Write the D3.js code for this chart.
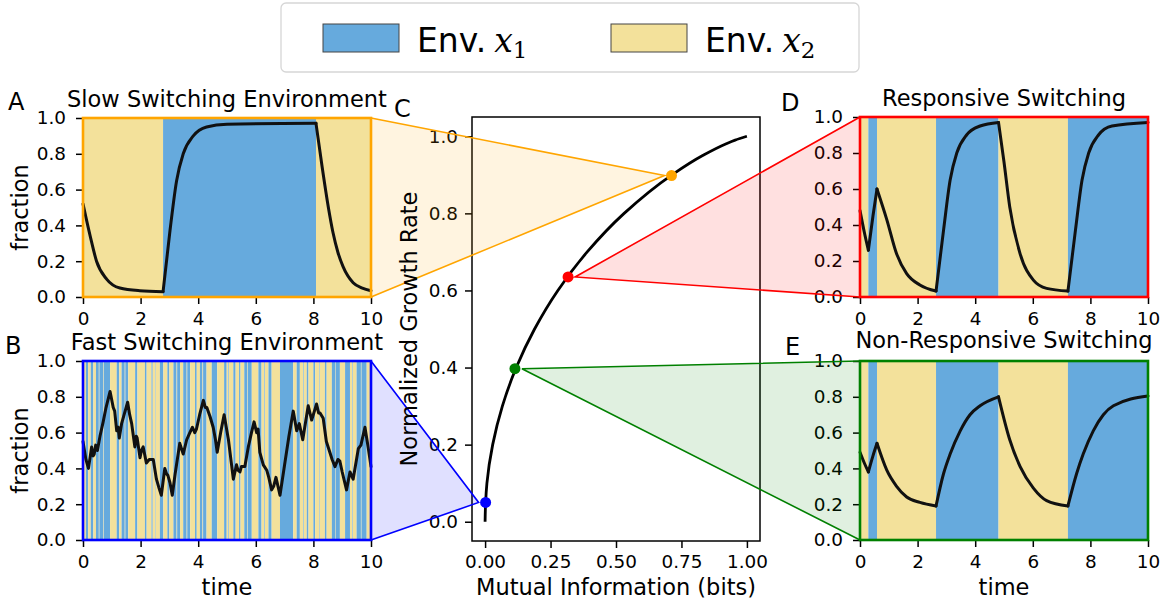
<!DOCTYPE html>
<html>
<head>
<meta charset="utf-8">
<script src="https://cdn.jsdelivr.net/npm/d3@7"></script>
<style>
body { margin: 0; background: #fff; }
svg { display: block; font-family: "DejaVu Sans", sans-serif; }
.tick text { font-family: "DejaVu Sans", sans-serif; font-size: 18.4px; fill: #000; }
.tick line { stroke: #000; stroke-width: 1.5; }
.lbl { font-size: 22.5px; fill: #000; }
.letter { font-size: 24px; fill: #000; }
</style>
</head>
<body>
<svg id="fig" width="1168" height="608"></svg>
<script>
'use strict'

// tick values
const timeTicks = [0, 2, 4, 6, 8, 10]
const fracTicks = [0, 0.2, 0.4, 0.6, 0.8, 1.0]
const infoTicks = [0, 0.25, 0.5, 0.75, 1.0]
const rateTicks = [0, 0.2, 0.4, 0.6, 0.8, 1.0]

// environment bands: [start, end, env]
const slowBands = [[0, 2.78, 2], [2.78, 8.09, 1], [8.09, 10, 2]]
const switchBands = [[0, 0.29, 2], [0.29, 0.59, 1], [0.59, 2.64, 2], [2.64, 4.81, 1], [4.81, 7.22, 2], [7.22, 10, 1]]
// fast environment: switch times, first band is env 2, then alternating
const fastSwitches = [0, 0.10, 0.18, 0.27, 0.36, 0.45, 0.55, 0.57, 0.70, 0.72, 0.94, 1.17, 1.26, 1.34, 1.45, 1.47,
    1.57, 1.81, 1.89, 2.15, 2.21, 2.38, 2.42, 2.50, 2.52, 2.67, 2.79, 2.93, 3.00, 3.14, 3.25, 3.27, 3.37, 3.48,
    3.60, 3.62, 3.72, 3.89, 3.95, 4.06, 4.15, 4.17, 4.29, 4.47, 4.66, 4.90, 4.99, 5.05, 5.07, 5.22, 5.30, 5.42,
    5.47, 5.60, 5.70, 5.72, 5.86, 6.09, 6.20, 6.30, 6.32, 6.44, 6.55, 6.84, 7.30, 7.42, 7.53, 7.65, 7.67, 7.77,
    7.83, 8.00, 8.06, 8.20, 8.22, 8.40, 8.46, 8.64, 8.75, 8.77, 8.92, 9.10, 9.27, 9.35, 9.37, 9.50, 9.65, 9.67, 9.85]

// fraction curves, split at switches: [time, fraction]
const slowCurve = [
    [[0, 0.52], [0.25, 0.34], [0.47, 0.2], [0.82, 0.1], [1.28, 0.05], [1.97, 0.035], [2.78, 0.03]],
    [[2.78, 0.03], [3.02, 0.37], [3.25, 0.65], [3.48, 0.8], [3.83, 0.9], [4.29, 0.95], [5.0, 0.965], [8.09, 0.97]],
    [[8.09, 0.97], [8.3, 0.73], [8.52, 0.5], [8.68, 0.36], [8.85, 0.25], [9.03, 0.17], [9.38, 0.08], [9.7, 0.05], [10, 0.035]]
]
const fastCurve = [[
    [0, 0.55], [0.1, 0.45], [0.19, 0.40], [0.3, 0.52], [0.35, 0.47], [0.39, 0.48], [0.44, 0.53], [0.5, 0.5],
    [0.59, 0.58], [0.7, 0.66], [0.8, 0.74], [0.94, 0.83], [1.05, 0.74], [1.1, 0.72], [1.17, 0.61], [1.22, 0.63],
    [1.26, 0.57], [1.34, 0.65], [1.55, 0.77], [1.62, 0.70], [1.69, 0.65], [1.75, 0.58], [1.8, 0.52], [1.85, 0.58],
    [1.88, 0.57], [1.98, 0.46], [2.03, 0.5], [2.09, 0.52], [2.2, 0.43], [2.3, 0.45], [2.44, 0.45], [2.55, 0.34],
    [2.64, 0.29], [2.72, 0.25], [2.84, 0.40], [2.9, 0.37], [2.95, 0.36], [3.02, 0.32], [3.1, 0.25], [3.2, 0.37],
    [3.36, 0.54], [3.48, 0.48], [3.6, 0.56], [3.71, 0.6], [3.8, 0.63], [3.88, 0.6], [3.94, 0.62], [4.05, 0.7],
    [4.18, 0.78], [4.25, 0.74], [4.3, 0.74], [4.41, 0.69], [4.52, 0.63], [4.6, 0.56], [4.66, 0.49], [4.78, 0.6],
    [4.9, 0.70], [5.05, 0.56], [5.22, 0.34], [5.33, 0.42], [5.38, 0.39], [5.45, 0.38], [5.5, 0.41], [5.62, 0.41],
    [5.74, 0.52], [5.85, 0.6], [5.94, 0.66], [6.03, 0.6], [6.08, 0.62], [6.14, 0.49], [6.26, 0.42], [6.38, 0.39],
    [6.45, 0.35], [6.55, 0.28], [6.62, 0.30], [6.7, 0.35], [6.84, 0.25], [7.0, 0.42], [7.15, 0.58], [7.3, 0.72],
    [7.42, 0.61], [7.51, 0.65], [7.63, 0.56], [7.82, 0.75], [7.94, 0.67], [8.11, 0.76], [8.18, 0.71], [8.23, 0.71],
    [8.34, 0.68], [8.45, 0.55], [8.57, 0.49], [8.65, 0.45], [8.75, 0.41], [8.85, 0.45], [8.92, 0.44], [9.0, 0.38],
    [9.15, 0.28], [9.27, 0.38], [9.38, 0.34], [9.56, 0.51], [9.65, 0.53], [9.79, 0.63], [9.9, 0.52], [10, 0.41]
]]
const responsiveCurve = [
    [[0, 0.48], [0.15, 0.36], [0.29, 0.26]],
    [[0.29, 0.26], [0.45, 0.45], [0.59, 0.6]],
    [[0.59, 0.6], [0.93, 0.43], [1.27, 0.24], [1.62, 0.13], [2.08, 0.067], [2.64, 0.033]],
    [[2.64, 0.033], [2.9, 0.37], [3.13, 0.65], [3.36, 0.8], [3.7, 0.9], [4.17, 0.95], [4.81, 0.97]],
    [[4.81, 0.97], [5.0, 0.75], [5.2, 0.5], [5.56, 0.24], [6.02, 0.094], [6.48, 0.048], [7.22, 0.033]],
    [[7.22, 0.033], [7.48, 0.37], [7.71, 0.65], [7.94, 0.8], [8.28, 0.9], [8.75, 0.95], [10, 0.97]]
]
const nonResponsiveCurve = [
    [[0, 0.49], [0.15, 0.43], [0.29, 0.38]],
    [[0.29, 0.38], [0.45, 0.47], [0.59, 0.54]],
    [[0.59, 0.54], [0.93, 0.39], [1.27, 0.3], [1.62, 0.24], [2.08, 0.21], [2.64, 0.19]],
    [[2.64, 0.19], [2.9, 0.37], [3.13, 0.48], [3.48, 0.61], [3.82, 0.7], [4.17, 0.75], [4.81, 0.8]],
    [[4.81, 0.8], [5.2, 0.56], [5.56, 0.41], [6.02, 0.29], [6.48, 0.22], [7.22, 0.19]],
    [[7.22, 0.19], [7.52, 0.37], [7.75, 0.48], [8.1, 0.61], [8.45, 0.7], [8.8, 0.75], [10, 0.805]]
]

// growth rate vs mutual information: [info, rate]
const tradeoffCurve = [[0, 0], [0.002, 0.05], [0.007, 0.1], [0.029, 0.2], [0.066, 0.3], [0.119, 0.4], [0.189, 0.5],
    [0.278, 0.6], [0.39, 0.7], [0.531, 0.8], [0.714, 0.9], [0.831, 0.95], [0.919, 0.98], [0.955, 0.99], [1, 1]]
const pointNames = ['slow', 'responsive', 'nonresponsive', 'fast']
const pointInfo = [0.712, 0.317, 0.114, 0.002]
const pointRate = [0.898, 0.635, 0.397, 0.05]
const pointColors = ['orange', 'red', 'green', 'blue']

const envColor = { 1: '#66aadd', 2: '#f3e19b' }

const svg = d3.select('#fig')

const boxes = {
    slow: { x0: 83, x1: 371, y0: 118, y1: 297 },
    fast: { x0: 83, x1: 371, y0: 361, y1: 540 },
    responsive: { x0: 860, x1: 1148, y0: 117, y1: 297 },
    nonresponsive: { x0: 860, x1: 1148, y0: 361, y1: 540 }
}
const cBox = { x0: 472, x1: 760, y0: 117, y1: 541 }

const fastBands = fastSwitches.map((t, i) => [t, i + 1 < fastSwitches.length ? fastSwitches[i + 1] : 10, i % 2 === 0 ? 2 : 1])

function drawPanel(box, bands, segments, color, smooth) {
    const x = d3.scaleLinear().domain([0, 10]).range([box.x0, box.x1])
    const y = d3.scaleLinear().domain([0, 1]).range([box.y1, box.y0])
    const g = svg.append('g')

    g.selectAll('.band').data(bands).enter().append('rect')
        .attr('x', d => x(d[0]))
        .attr('width', d => x(d[1]) - x(d[0]))
        .attr('y', box.y0)
        .attr('height', box.y1 - box.y0)
        .attr('fill', d => envColor[d[2]])

    const line = d3.line().x(d => x(d[0])).y(d => y(d[1]))
        .curve(smooth ? d3.curveMonotoneX : d3.curveLinear)
    g.selectAll('.curve').data(segments).enter().append('path')
        .attr('d', line)
        .attr('fill', 'none')
        .attr('stroke', '#111')
        .attr('stroke-width', 3)
        .attr('stroke-linecap', 'round')
        .attr('stroke-linejoin', 'round')

    g.append('g')
        .attr('transform', 'translate(' + box.x0 + ',0)')
        .call(d3.axisLeft(y).tickValues(fracTicks).tickFormat(d3.format('.1f')).tickSize(7).tickPadding(10))
        .call(a => a.select('.domain').remove())
    g.append('g')
        .attr('transform', 'translate(0,' + box.y1 + ')')
        .call(d3.axisBottom(x).tickValues(timeTicks).tickFormat(d3.format('d')).tickSize(7).tickPadding(8))
        .call(a => a.select('.domain').remove())

    g.append('rect')
        .attr('x', box.x0).attr('y', box.y0)
        .attr('width', box.x1 - box.x0).attr('height', box.y1 - box.y0)
        .attr('fill', 'none')
        .attr('stroke', color)
        .attr('stroke-width', 2.6)
    return { x, y }
}

drawPanel(boxes.slow, slowBands, slowCurve, 'orange', true)
drawPanel(boxes.fast, fastBands, fastCurve, 'blue', false)
drawPanel(boxes.responsive, switchBands, responsiveCurve, 'red', true)
drawPanel(boxes.nonresponsive, switchBands, nonResponsiveCurve, 'green', true)

// panel C
const xC = d3.scaleLinear().domain([-0.05, 1.05]).range([cBox.x0, cBox.x1])
const yC = d3.scaleLinear().domain([-0.05, 1.05]).range([cBox.y1, cBox.y0])

svg.append('g')
    .attr('transform', 'translate(' + cBox.x0 + ',0)')
    .call(d3.axisLeft(yC).tickValues(rateTicks).tickFormat(d3.format('.1f')).tickSize(7).tickPadding(7))
    .call(a => a.select('.domain').remove())
svg.append('g')
    .attr('transform', 'translate(0,' + cBox.y1 + ')')
    .call(d3.axisBottom(xC).tickValues(infoTicks).tickFormat(d3.format('.2f')).tickSize(7).tickPadding(7))
    .call(a => a.select('.domain').remove())
svg.append('rect')
    .attr('x', cBox.x0).attr('y', cBox.y0)
    .attr('width', cBox.x1 - cBox.x0).attr('height', cBox.y1 - cBox.y0)
    .attr('fill', 'none').attr('stroke', '#000').attr('stroke-width', 1.5)

// zoom wedges from the operating points to their panels
const wedges = pointNames.map((name, i) => {
    const box = boxes[name]
    const left = box.x0 > cBox.x0
    const ax = xC(pointInfo[i]) + (left ? 7 : -7)
    const ay = yC(pointRate[i])
    const ex = left ? box.x0 : box.x1
    return { color: pointColors[i], pts: [[ex, box.y0], [ax, ay], [ex, box.y1]] }
})
svg.selectAll('.wedge').data(wedges).enter().append('polygon')
    .attr('points', d => d.pts.map(p => p.join(',')).join(' '))
    .attr('fill', d => d.color)
    .attr('fill-opacity', 0.12)
svg.selectAll('.wedgeLine').data(wedges).enter().append('polyline')
    .attr('points', d => d.pts.map(p => p.join(',')).join(' '))
    .attr('fill', 'none')
    .attr('stroke', d => d.color)
    .attr('stroke-width', 1.6)

svg.append('path')
    .datum(tradeoffCurve)
    .attr('d', d3.line().x(d => xC(d[0])).y(d => yC(d[1])).curve(d3.curveMonotoneY))
    .attr('fill', 'none').attr('stroke', '#000').attr('stroke-width', 2.8)

svg.selectAll('.op').data(pointNames).enter().append('circle')
    .attr('cx', (d, i) => xC(pointInfo[i]))
    .attr('cy', (d, i) => yC(pointRate[i]))
    .attr('r', 5.5)
    .attr('fill', (d, i) => pointColors[i])

// labels
const texts = [
    { t: 'Slow Switching Environment', x: 227, y: 107, a: 'middle', c: 'lbl' },
    { t: 'Fast Switching Environment', x: 227, y: 350, a: 'middle', c: 'lbl' },
    { t: 'Responsive Switching', x: 1004, y: 106, a: 'middle', c: 'lbl' },
    { t: 'Non-Responsive Switching', x: 1004, y: 348, a: 'middle', c: 'lbl' },
    { t: 'time', x: 227, y: 595, a: 'middle', c: 'lbl' },
    { t: 'time', x: 1004, y: 595, a: 'middle', c: 'lbl' },
    { t: 'Mutual Information (bits)', x: 616, y: 595, a: 'middle', c: 'lbl' },
    { t: 'A', x: 8, y: 110, a: 'start', c: 'letter' },
    { t: 'B', x: 5, y: 354, a: 'start', c: 'letter' },
    { t: 'C', x: 394, y: 117, a: 'start', c: 'letter' },
    { t: 'D', x: 781, y: 111, a: 'start', c: 'letter' },
    { t: 'E', x: 785, y: 355, a: 'start', c: 'letter' }
]
svg.selectAll('.txt').data(texts).enter().append('text')
    .attr('class', d => d.c)
    .attr('x', d => d.x).attr('y', d => d.y)
    .attr('text-anchor', d => d.a)
    .text(d => d.t)

const vtexts = [
    { t: 'fraction', x: 28, y: 207.5 },
    { t: 'fraction', x: 28, y: 450.5 },
    { t: 'Normalized Growth Rate', x: 417, y: 329 }
]
svg.selectAll('.vtxt').data(vtexts).enter().append('text')
    .attr('class', 'lbl')
    .attr('text-anchor', 'middle')
    .attr('transform', d => 'translate(' + d.x + ',' + d.y + ') rotate(-90)')
    .text(d => d.t)

// legend
const legendEnvs = [1, 2]
const legend = svg.append('g')
legend.append('rect')
    .attr('x', 281).attr('y', 3).attr('width', 578).attr('height', 69).attr('rx', 5)
    .attr('fill', '#fff').attr('stroke', '#d6d6d6').attr('stroke-width', 1.3)
legendEnvs.forEach((env, i) => {
    const bx = 323 + i * 288
    legend.append('rect')
        .attr('x', bx).attr('y', 24).attr('width', 76).attr('height', 28)
        .attr('fill', envColor[env]).attr('stroke', '#444').attr('stroke-width', 1)
    const t = legend.append('text')
        .attr('x', bx + 94).attr('y', 52)
        .style('font-size', '33px')
        .text('Env.')
    const w = t.node().getComputedTextLength()
    const m = legend.append('text')
        .attr('x', bx + 94 + w + 8).attr('y', 52)
        .style('font-family', '"DejaVu Serif", serif')
        .style('font-style', 'italic')
        .style('font-size', '33px')
        .text('x')
    m.append('tspan')
        .attr('dy', 6)
        .style('font-style', 'normal')
        .style('font-size', '23px')
        .text(String(env))
})
</script>
</body>
</html>
